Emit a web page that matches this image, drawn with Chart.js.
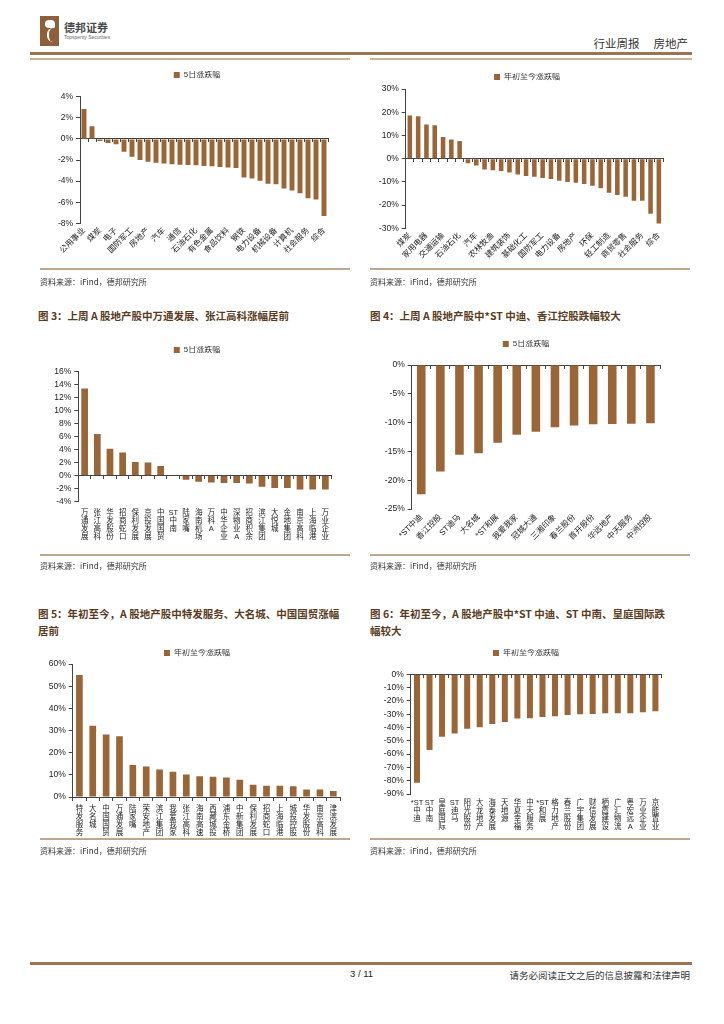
<!DOCTYPE html>
<html lang="zh-CN">
<head>
<meta charset="utf-8">
<title>行业周报 房地产</title>
<script src="https://cdn.jsdelivr.net/npm/chart.js@4.4.1/dist/chart.umd.min.js"></script>
<style>
  html, body { margin: 0; padding: 0; background: #fff; }
  #page { position: relative; width: 724px; height: 1024px; overflow: hidden;
          font-family: "Noto Sans CJK SC", "Liberation Sans", sans-serif; color: #222; }
  canvas { position: absolute; }
  .t { position: absolute; white-space: nowrap; }
  .bar { position: absolute; }
  .title { font-size: 10.5px; font-weight: bold; color: #5a3b22; line-height: 17px; }
  .src { font-size: 8px; color: #333; }
</style>
</head>
<body>
<div id="page">
  <!-- header -->
  <div class="bar" style="left:40px;top:16px;width:19px;height:30px;background:#8d5f3a;"></div>
  <div class="bar" style="left:45px;top:20px;width:10px;height:8px;background:#fff;border-radius:5px 5px 2px 5px;"></div>
  <div class="bar" style="left:47px;top:28px;width:4px;height:14px;border-left:2px solid #fff;border-radius:6px 0 0 6px;"></div>
  <div class="t" style="left:64px;top:19px;font-size:11px;font-weight:bold;color:#4a4a4a;">德邦证券</div>
  <div class="t" style="left:64px;top:34px;font-size:5px;color:#666;font-family:'Liberation Sans';">Topsperity Securities</div>
  <div class="t" style="right:36px;top:35px;font-size:11.5px;color:#333;word-spacing:0;">行业周报<span style="display:inline-block;width:14px;"></span>房地产</div>
  <div class="bar" style="left:30px;top:52px;width:662px;height:3px;background:#9a7550;"></div>
  <div class="bar" style="left:30px;top:58px;width:320px;height:1.5px;background:#c8b29a;"></div>
  <div class="bar" style="left:370px;top:58px;width:322px;height:1.5px;background:#c8b29a;"></div>

  <!-- row 1 -->
  <canvas id="c1"></canvas>
  <canvas id="c2"></canvas>
  <div class="bar" style="left:40px;top:268px;width:310px;height:2px;background:#c2a68b;"></div>
  <div class="bar" style="left:370px;top:268px;width:320px;height:2px;background:#c2a68b;"></div>
  <div class="t src" style="left:40px;top:276px;">资料来源：iFind，德邦研究所</div>
  <div class="t src" style="left:370px;top:276px;">资料来源：iFind，德邦研究所</div>

  <!-- row 2 -->
  <div class="t title" style="left:38px;top:307px;">图 3：上周 A 股地产股中万通发展、张江高科涨幅居前</div>
  <div class="t title" style="left:370px;top:307px;">图 4：上周 A 股地产股中*ST 中迪、香江控股跌幅较大</div>
  <canvas id="c3"></canvas>
  <canvas id="c4"></canvas>
  <div class="bar" style="left:40px;top:554px;width:310px;height:2px;background:#c2a68b;"></div>
  <div class="bar" style="left:370px;top:554px;width:320px;height:2px;background:#c2a68b;"></div>
  <div class="t src" style="left:40px;top:560px;">资料来源：iFind，德邦研究所</div>
  <div class="t src" style="left:370px;top:560px;">资料来源：iFind，德邦研究所</div>

  <!-- row 3 -->
  <div class="t title" style="left:38px;top:605px;">图 5：年初至今，A 股地产股中特发服务、大名城、中国国贸涨幅<br>居前</div>
  <div class="t title" style="left:370px;top:605px;">图 6：年初至今，A 股地产股中*ST 中迪、ST 中南、皇庭国际跌<br>幅较大</div>
  <canvas id="c5"></canvas>
  <canvas id="c6"></canvas>
  <div class="bar" style="left:40px;top:838px;width:310px;height:2px;background:#c2a68b;"></div>
  <div class="bar" style="left:370px;top:838px;width:320px;height:2px;background:#c2a68b;"></div>
  <div class="t src" style="left:40px;top:845px;">资料来源：iFind，德邦研究所</div>
  <div class="t src" style="left:370px;top:845px;">资料来源：iFind，德邦研究所</div>

  <!-- footer -->
  <div class="bar" style="left:30px;top:962px;width:662px;height:3px;background:#9a7550;"></div>
  <div class="t" style="left:350px;top:968px;font-size:9.5px;font-family:'Liberation Sans';">3 / 11</div>
  <div class="t" style="right:34px;top:968px;font-size:9.5px;color:#333;">请务必阅读正文之后的信息披露和法律声明</div>
</div>

<script>
// 申万行业 5日涨跌幅
var wkIndName = "5日涨跌幅";
var wkIndLabels = ["公用事业", "银行", "煤炭", "家用电器", "电子", "交通运输", "国防军工", "农林牧渔",
  "房地产", "非银金融", "汽车", "医药生物", "通信", "建筑装饰", "石油石化", "基础化工",
  "有色金属", "美容护理", "食品饮料", "建筑材料", "钢铁", "纺织服饰", "电力设备", "商贸零售",
  "机械设备", "轻工制造", "计算机", "传媒", "社会服务", "环保", "综合"];
var wkIndValues = [2.84, 1.19, -0.19, -0.38, -0.5, -1.22, -1.69, -2.0, -2.16, -2.25, -2.34, -2.4,
  -2.44, -2.47, -2.5, -2.56, -2.6, -2.66, -2.72, -2.75, -3.66, -3.75, -3.97, -4.25, -4.31,
  -4.69, -4.88, -5.16, -5.63, -5.75, -7.31];
var wkIndTicks = [4, 2, 0, -2, -4, -6, -8];

// 申万行业 年初至今涨跌幅
var ytdIndName = "年初至今涨跌幅";
var ytdIndLabels = ["煤炭", "银行", "家用电器", "公用事业", "交通运输", "非银金融", "石油石化", "有色金属",
  "汽车", "钢铁", "农林牧渔", "食品饮料", "建筑装饰", "建筑材料", "基础化工", "通信",
  "国防军工", "机械设备", "电力设备", "医药生物", "房地产", "纺织服饰", "环保", "电子",
  "轻工制造", "美容护理", "商贸零售", "计算机", "社会服务", "传媒", "综合"];
var ytdIndValues = [18.6, 18.3, 14.7, 14.4, 9.35, 8.2, 7.6, -2.0, -3.0, -4.7, -5.0, -5.3, -6.0,
  -6.8, -7.5, -7.8, -8.3, -8.8, -9.5, -10.1, -10.4, -10.9, -11.7, -12.7, -14.7, -15.7, -16.4,
  -18.1, -18.1, -23.7, -27.9];
var ytdIndTicks = [30, 20, 10, 0, -10, -20, -30];

// 地产股 5日涨幅居前
var wkUpName = "5日涨跌幅";
var wkUpLabels = ["万通发展", "张江高科", "华发股份", "招商蛇口", "保利发展", "京投发展", "中国国贸",
  "ST中南", "陆家嘴", "海南机场", "万科A", "中华企业", "深物业A", "招商积余", "滨江集团",
  "大悦城", "金地集团", "南京高科", "上海临港", "万业企业"];
var wkUpValues = [13.4, 6.4, 4.1, 3.55, 2.06, 2.0, 1.44, 0, -0.67, -0.98, -1.08, -1.19, -1.19,
  -1.24, -1.75, -1.96, -1.96, -2.16, -2.16, -2.16];
var wkUpTicks = [16, 14, 12, 10, 8, 6, 4, 2, 0, -2, -4];

// 地产股 5日跌幅较大
var wkDownName = "5日涨跌幅";
var wkDownLabels = ["*ST中迪", "香江控股", "ST迪马", "大名城", "*ST和展", "我爱我家", "冠城大通",
  "三湘印象", "春兰股份", "首开股份", "华远地产", "中天服务", "中洲控股"];
var wkDownValues = [-22.45, -18.5, -15.6, -15.3, -13.5, -12.1, -11.6, -10.8, -10.5, -10.3,
  -10.25, -10.2, -10.1];
var wkDownTicks = [0, -5, -10, -15, -20, -25];

// 地产股 年初至今涨幅居前
var ytdUpName = "年初至今涨跌幅";
var ytdUpLabels = ["特发服务", "大名城", "中国国贸", "万通发展", "陆家嘴", "荣安地产", "滨江集团",
  "我爱我家", "张江高科", "海南高速", "西藏城投", "浦东金桥", "中新集团", "保利发展",
  "招商蛇口", "上海临港", "城投控股", "华发股份", "南京高科", "津滨发展"];
var ytdUpValues = [55.0, 32.1, 28.2, 27.4, 14.4, 13.8, 12.4, 11.4, 10.2, 9.4, 9.1, 8.8, 7.8,
  5.5, 5.1, 5.1, 4.9, 3.4, 3.4, 2.7];
var ytdUpTicks = [60, 50, 40, 30, 20, 10, 0];

// 地产股 年初至今跌幅较大
var ytdDownName = "年初至今涨跌幅";
var ytdDownLabels = ["*ST中迪", "ST中南", "皇庭国际", "ST迪马", "阳光股份", "大龙地产", "海泰发展",
  "天地源", "华夏幸福", "中天服务", "*ST和展", "格力地产", "春兰股份", "广宇集团", "财信发展",
  "栖霞建设", "广汇物流", "粤宏远A", "万业企业", "京能置业"];
var ytdDownValues = [-81.5, -56.9, -46.9, -44.6, -40.9, -39.8, -37.3, -35.8, -33.3, -33.1,
  -32.1, -31.6, -30.6, -30.1, -29.8, -29.3, -29.3, -29.3, -28.6, -27.8];
var ytdDownTicks = [0, -10, -20, -30, -40, -50, -60, -70, -80, -90];

var BROWN = "#9a6638";
var AXIS = "#444";
var FONT = '"Liberation Sans", "Noto Sans CJK SC", sans-serif';

// split a label into a vertical stack, keeping latin runs together
function stack(s) {
  return s.match(/[\x00-\xff]+|[^\x00-\xff]/g);
}

// g: where the plot should sit on the page (axis left/right, top/bottom values, legend centre)
function drawBars(id, g, name, labels, values, ticks, o) {
  var xh = 48;
  var padL = 2;
  var x0 = g.x0;
  var y0 = Math.round(g.ly - 10);
  var w = Math.ceil(g.R + 8 - x0);
  var h = Math.ceil(g.B + xh + 2 - y0);
  var yw = g.L - x0 - padL;
  var padR = w - (g.R - x0);
  var padTop = g.ly - 4 - y0;
  var padBot = h - (g.B - y0) - xh;
  var extra = g.T - g.ly - 14;
  var dx = g.cx - (x0 + (padL + w - padR) / 2);

  var cv = document.getElementById(id);
  cv.width = w;
  cv.height = h;
  cv.style.left = x0 + "px";
  cv.style.top = y0 + "px";

  // legend sits a little off the canvas centre in the original
  var legendPlace = {
    id: "legendPlace",
    beforeInit: function (chart) {
      var fit = chart.legend.fit;
      chart.legend.fit = function () {
        fit.call(this);
        this.height += extra;
      };
    },
    afterLayout: function (chart) {
      chart.legend.left += dx;
      chart.legend.right += dx;
    }
  };

  var tickCb;
  if (o.rot) {
    tickCb = function (v, i) {
      if (o.every && i % o.every) return "";
      return this.getLabelForValue(v);
    };
  } else {
    tickCb = function (v) {
      return stack(this.getLabelForValue(v));
    };
  }

  return new Chart(cv, {
    type: "bar",
    data: {
      labels: labels,
      datasets: [{
        label: name,
        data: values,
        backgroundColor: BROWN,
        borderWidth: 0,
        barPercentage: o.bar,
        categoryPercentage: 1
      }]
    },
    options: {
      responsive: false,
      animation: false,
      layout: { padding: { left: padL, right: padR, top: padTop, bottom: padBot } },
      plugins: {
        legend: {
          position: "top",
          labels: {
            boxWidth: 6, boxHeight: 6, padding: 0, color: "#333",
            font: { family: FONT, size: 8 }
          }
        },
        tooltip: { enabled: false }
      },
      scales: {
        x: {
          grid: { display: false, drawTicks: false },
          border: { display: false },
          ticks: {
            autoSkip: false,
            maxRotation: o.rot || 0,
            minRotation: o.rot || 0,
            padding: o.pad,
            color: "#222",
            font: { family: FONT, size: o.rot ? 8 : 7.5, lineHeight: 1.05 },
            callback: tickCb
          },
          afterFit: function (s) { s.height = xh; }
        },
        zero: {
          type: "category",
          axis: "x",
          position: { y: 0 },
          offset: true,
          grid: { drawOnChartArea: false, drawTicks: true, tickLength: 3, offset: true, color: AXIS },
          border: { display: true, color: AXIS, width: 1 },
          ticks: { display: false }
        },
        y: {
          min: Math.min.apply(null, ticks),
          max: Math.max.apply(null, ticks),
          grid: { drawOnChartArea: false, drawTicks: true, tickLength: 4, color: AXIS },
          border: { color: AXIS, width: 1 },
          ticks: {
            stepSize: Math.abs(ticks[0] - ticks[1]),
            autoSkip: false,
            maxTicksLimit: ticks.length + 1,
            padding: 3,
            color: "#222",
            font: { family: FONT, size: 8.5 },
            callback: function (v) { return v + "%"; }
          },
          afterFit: function (s) { s.width = yw; }
        }
      }
    },
    plugins: [legendPlace]
  });
}

drawBars("c1", { x0: 30, L: 80, R: 328, T: 96.7, B: 223.3, cx: 197, ly: 75 },
  wkIndName, wkIndLabels, wkIndValues, wkIndTicks, { rot: 45, every: 2, bar: 0.62, pad: 3 });
drawBars("c2", { x0: 360, L: 405.7, R: 663, T: 89, B: 228.3, cx: 527, ly: 77 },
  ytdIndName, ytdIndLabels, ytdIndValues, ytdIndTicks, { rot: 45, every: 2, bar: 0.55, pad: 3 });
drawBars("c3", { x0: 30, L: 78.3, R: 331.7, T: 371.7, B: 501.3, cx: 197, ly: 350 },
  wkUpName, wkUpLabels, wkUpValues, wkUpTicks, { bar: 0.53, pad: 8 });
drawBars("c4", { x0: 360, L: 411.7, R: 660, T: 365, B: 509, cx: 526, ly: 344 },
  wkDownName, wkDownLabels, wkDownValues, wkDownTicks, { rot: 45, bar: 0.45, pad: 4 });
drawBars("c5", { x0: 30, L: 72.7, R: 340, T: 664, B: 797, cx: 197, ly: 653 },
  ytdUpName, ytdUpLabels, ytdUpValues, ytdUpTicks, { bar: 0.5, pad: 8 });
drawBars("c6", { x0: 360, L: 410.7, R: 661.7, T: 674.3, B: 794, cx: 526, ly: 653 },
  ytdDownName, ytdDownLabels, ytdDownValues, ytdDownTicks, { bar: 0.48, pad: 5 });
</script>
</body>
</html>
